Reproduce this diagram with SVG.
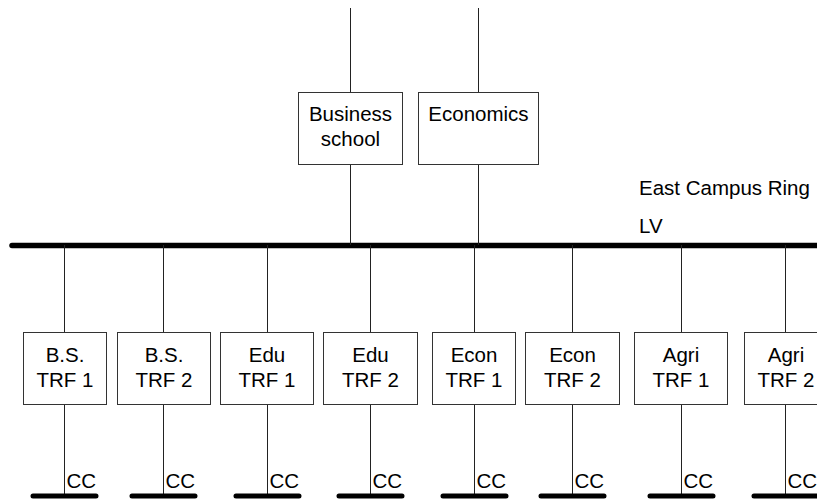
<svg xmlns="http://www.w3.org/2000/svg" width="817" height="499" viewBox="0 0 817 499">
  <style>
    .box { fill: #fff; stroke: #333; stroke-width: 1; }
    .wire { stroke: #222; stroke-width: 1; fill: none; }
    .bus { stroke: #000; stroke-width: 5.5; stroke-linecap: round; fill: none; }
    .cc { stroke: #000; stroke-width: 5; stroke-linecap: round; fill: none; }
    text { font-family: "Liberation Sans", Arial, sans-serif; font-size: 20.5px; fill: #000; }
    .c { text-anchor: middle; }
  </style>
  <rect width="817" height="499" fill="#fff"/>

  <!-- connectors -->
  <g id="connectors">
    <line class="bus" x1="12" y1="245.5" x2="830" y2="245.5"/>
    <!-- incoming feeders -->
    <line class="wire" x1="350.5" y1="8" x2="350.5" y2="92"/>
    <line class="wire" x1="350.5" y1="164" x2="350.5" y2="245"/>
    <line class="wire" x1="478.5" y1="8" x2="478.5" y2="92"/>
    <line class="wire" x1="478.5" y1="164" x2="478.5" y2="245"/>
    <!-- transformer drops -->
    <path class="wire" d="M64.5 245V332M64.5 404V496 M163.5 245V332M163.5 404V496 M267.5 245V332M267.5 404V496 M370.5 245V332M370.5 404V496 M474.5 245V332M474.5 404V496 M572.5 245V332M572.5 404V496 M681.5 245V332M681.5 404V496 M785.5 245V332M785.5 404V496"/>
    <!-- CC busbars -->
    <path class="cc" d="M33 496H96 M132 496H195 M236 496H299 M339 496H402 M443 496H506 M541 496H604 M650 496H713 M754 496H817"/>
  </g>

  <g id="label-ring">
    <text x="639" y="195">East Campus Ring</text>
    <text x="639" y="233">LV</text>
  </g>

  <g id="business-school">
    <rect class="box" x="298.5" y="92.5" width="104" height="72"/>
    <text class="c" x="350.5" y="121">Business</text>
    <text class="c" x="350.5" y="146">school</text>
  </g>
  <g id="economics">
    <rect class="box" x="418.5" y="92.5" width="120" height="72"/>
    <text class="c" x="478.5" y="121">Economics</text>
  </g>

  <g id="bs-trf1">
    <rect class="box" x="23.5" y="332.5" width="83" height="72"/>
    <text class="c" x="65" y="362">B.S.</text>
    <text class="c" x="65" y="387">TRF 1</text>
    <text x="66.5" y="488">CC</text>
  </g>
  <g id="bs-trf2">
    <rect class="box" x="117.5" y="332.5" width="93" height="72"/>
    <text class="c" x="164" y="362">B.S.</text>
    <text class="c" x="164" y="387">TRF 2</text>
    <text x="165.5" y="488">CC</text>
  </g>
  <g id="edu-trf1">
    <rect class="box" x="220.5" y="332.5" width="93" height="72"/>
    <text class="c" x="267" y="362">Edu</text>
    <text class="c" x="267" y="387">TRF 1</text>
    <text x="269.5" y="488">CC</text>
  </g>
  <g id="edu-trf2">
    <rect class="box" x="323.5" y="332.5" width="94" height="72"/>
    <text class="c" x="370.5" y="362">Edu</text>
    <text class="c" x="370.5" y="387">TRF 2</text>
    <text x="372.5" y="488">CC</text>
  </g>
  <g id="econ-trf1">
    <rect class="box" x="432.5" y="332.5" width="83" height="72"/>
    <text class="c" x="474" y="362">Econ</text>
    <text class="c" x="474" y="387">TRF 1</text>
    <text x="476.5" y="488">CC</text>
  </g>
  <g id="econ-trf2">
    <rect class="box" x="525.5" y="332.5" width="94" height="72"/>
    <text class="c" x="572.5" y="362">Econ</text>
    <text class="c" x="572.5" y="387">TRF 2</text>
    <text x="574.5" y="488">CC</text>
  </g>
  <g id="agri-trf1">
    <rect class="box" x="634.5" y="332.5" width="93" height="72"/>
    <text class="c" x="681" y="362">Agri</text>
    <text class="c" x="681" y="387">TRF 1</text>
    <text x="683.5" y="488">CC</text>
  </g>
  <g id="agri-trf2">
    <rect class="box" x="744.5" y="332.5" width="83" height="72"/>
    <text class="c" x="786" y="362">Agri</text>
    <text class="c" x="786" y="387">TRF 2</text>
    <text x="787.5" y="488">CC</text>
  </g>
</svg>
